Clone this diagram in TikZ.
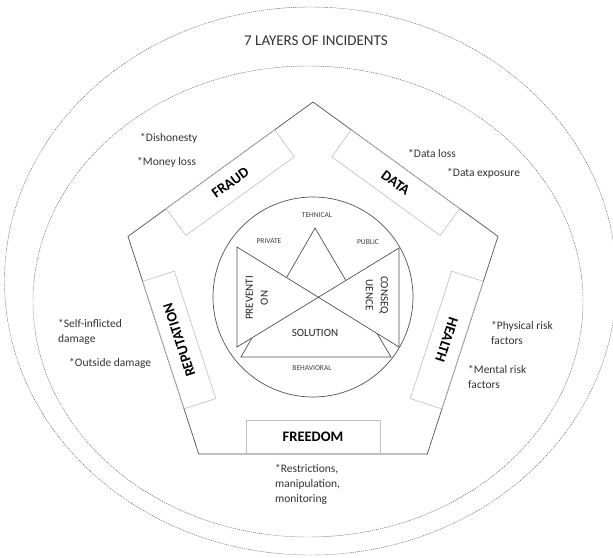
\documentclass[tikz,border=0pt]{standalone}
\usepackage{fontspec}
\setmainfont{Carlito}
\usetikzlibrary{calc}
\begin{document}
\begin{tikzpicture}[x=1pt,y=-1pt,
  layer/.style={draw=black!62, line width=0.45pt, dash pattern=on 1.1pt off 0.9pt},
  edge/.style={draw=black!68, line width=0.7pt},
  sidebox/.style={draw=black!25, fill=white, line width=0.6pt, minimum width=134pt,
    minimum height=33pt, inner sep=0pt, anchor=north},
  boxlabel/.style={inner sep=0pt, font=\fontsize{14.5}{16}\selectfont\bfseries},
  note/.style={anchor=west, align=left, text=black!80, inner sep=0pt,
    font=\fontsize{11.5}{15}\selectfont},
  tag/.style={text=black!75, inner sep=0pt, font=\fontsize{7.5}{9}\selectfont},
  core/.style={text=black!85, inner sep=0pt, align=center,
    font=\fontsize{11}{15}\selectfont}
]
\useasboundingbox (0,0) rectangle (613,557);
\fill[white] (0,0) rectangle (613,557);

% the two dotted outer layers
\draw[layer] (310.5,281) ellipse [x radius=306, y radius=274];
\draw[layer] (308,301.5) ellipse [x radius=275, y radius=235.5];

\node[text=black!80, inner sep=0pt, font=\fontsize{15}{18}\selectfont] (title) at (316,41) {7 LAYERS OF INCIDENTS};

% pentagon
\coordinate (pA) at (313,102);
\coordinate (pUR) at (498,236.4);
\coordinate (pBR) at (427.3,453.9);
\coordinate (pBL) at (198.7,453.9);
\coordinate (pUL) at (128,236.4);
\draw[edge] (pA) -- (pUR) -- (pBR) -- (pBL) -- (pUL) -- cycle;

% one box on each side, with its label
\node[sidebox, rotate=36] (fraud) at ($(pUL)!0.5!(pA)$) {};
\node[sidebox, rotate=-36] (data) at ($(pA)!0.5!(pUR)$) {};
\node[sidebox, rotate=-108] (health) at ($(pUR)!0.5!(pBR)$) {};
\node[sidebox, anchor=south] (freedom) at ($(pBR)!0.5!(pBL)$) {};
\node[sidebox, rotate=108] (reputation) at ($(pBL)!0.5!(pUL)$) {};
\node[boxlabel, rotate=36] (fraudtxt) at (fraud.center) {FRAUD};
\node[boxlabel, rotate=-36] (datatxt) at (data.center) {DATA};
\node[boxlabel, rotate=-108] (healthtxt) at (health.center) {HEALTH};
\node[boxlabel] (freedomtxt) at (freedom.center) {FREEDOM};
\node[boxlabel, rotate=108] (reputationtxt) at (reputation.center) {REPUTATION};

% core circle with triangle and bow-tie
\draw[edge] (313,297) circle [radius=100];
\coordinate (tTop) at (315,228);
\coordinate (tL) at (241,357);
\coordinate (tR) at (391,357);
\draw[edge] (tTop) -- (tR) -- (tL) -- cycle;
\coordinate (bL1) at (237,247);
\coordinate (bL2) at (237,347);
\coordinate (bR1) at (399,248);
\coordinate (bR2) at (399,347);
\filldraw[edge, fill=white] (bL1) -- (bR2) -- (bR1) -- (bL2) -- cycle;

\node[tag] (tehnical) at (317,215) {TEHNICAL};
\node[tag] (private) at (269,241) {PRIVATE};
\node[tag] (public) at (368,242) {PUBLIC};
\node[tag] (behavioral) at (312,368) {BEHAVIORAL};
\node[core] (solution) at (315,333) {SOLUTION};
\node[core, rotate=90] (prevention) at (257,298) {PREVENTI\\ON};
\node[core, rotate=-90] (consequence) at (377,295) {CONSEQ\\UENCE};

% notes around the pentagon
\node[note] (n1) at (140,138) {*Dishonesty};
\node[note] (n2) at (137,162) {*Money loss};
\node[note] (n3) at (408,153) {*Data loss};
\node[note] (n4) at (447,173) {*Data exposure};
\node[note] (n5) at (58,331.5) {*Self-inflicted\\damage};
\node[note] (n6) at (69,363) {*Outside damage};
\node[note] (n7) at (491,332.5) {*Physical risk\\factors};
\node[note] (n8) at (468,376.5) {*Mental risk\\factors};
\node[note] (n9) at (275,484) {*Restrictions,\\manipulation,\\monitoring};
\end{tikzpicture}
\end{document}
